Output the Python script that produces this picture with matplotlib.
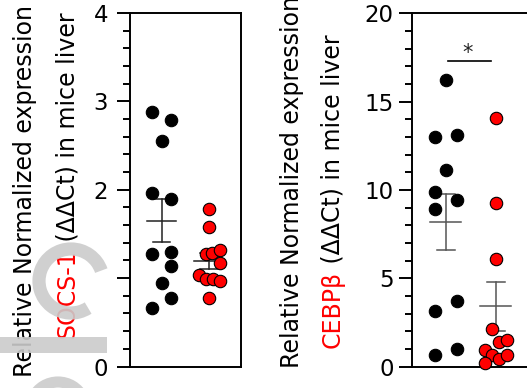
import numpy as np
import matplotlib
matplotlib.use("Agg")
import matplotlib.pyplot as plt
from matplotlib.patches import Arc, Rectangle
from matplotlib.ticker import MultipleLocator, FixedLocator, FixedFormatter

plt.rcParams['font.family'] = ['DejaVu Sans']

# ---------------- data ----------------
groups = [0, 1]
socs_ctrl = [2.875, 2.79, 2.55, 1.96, 1.89, 1.27, 1.30, 1.14, 0.95, 0.78, 0.665]
socs_ctrl_jit = [-0.21, 0.21, 0.0, -0.21, 0.21, -0.21, 0.21, 0.21, 0.0, 0.21, -0.21]
socs_trt = [1.78, 1.575, 1.27, 1.28, 1.315, 1.175, 1.03, 0.985, 0.99, 0.97, 0.78]
socs_trt_jit = [0.0, 0.0, -0.07, 0.07, 0.23, 0.23, -0.21, -0.07, 0.08, 0.23, 0.0]

cebp_ctrl = [16.23, 12.98, 13.13, 11.11, 9.87, 9.43, 8.94, 3.72, 3.15, 1.0, 0.68]
cebp_ctrl_jit = [0.0, -0.21, 0.22, 0.0, -0.21, 0.22, -0.21, 0.22, -0.21, 0.22, -0.21]
cebp_trt = [14.1, 9.28, 6.1, 2.15, 1.40, 1.51, 0.945, 0.66, 0.45, 0.66, 0.23]
cebp_trt_jit = [0.0, 0.0, 0.0, -0.07, 0.07, 0.22, -0.21, -0.07, 0.07, 0.22, -0.21]

socs_ticks = [0, 1, 2, 3, 4]
socs_ticklabels = ['0', '', '2', '3', '4']
cebp_ticks = [0, 5, 10, 15, 20]
cebp_ticklabels = ['0', '5', '10', '15', '20']

ylabel_line1 = "Relative Normalized expression"
socs_gene = "SOCS-1"
cebp_gene = "CEBPβ"
ylabel_rest = " (ΔΔCt) in mice liver"
sig_text = "*"

# ---------------- figure ----------------
W, H = 527, 388
fig = plt.figure(figsize=(W / 100, H / 100), dpi=100)
fig.patch.set_facecolor('white')


def px_axes(x0, x1, ytop, ybot):
    return fig.add_axes([x0 / W, (H - ybot) / H, (x1 - x0) / W, (ybot - ytop) / H])


ax1 = px_axes(129.5, 241, 13, 366.5)
ax2 = px_axes(412.3, 412.3 + 117.5, 13.3, 366.7)

FS_TICK = 16.5
FS_LAB = 17


def style(ax, ylim, ticks, labels, minor, pad):
    ax.set_xlim(-0.674, 1.674)
    ax.set_ylim(*ylim)
    ax.set_xticks([])
    ax.yaxis.set_major_locator(FixedLocator(ticks))
    ax.yaxis.set_major_formatter(FixedFormatter(labels))
    ax.yaxis.set_minor_locator(MultipleLocator(minor))
    ax.tick_params(axis='y', which='major', length=9.5, width=1.4, labelsize=FS_TICK, pad=pad)
    ax.tick_params(axis='y', which='minor', length=5, width=1.4)
    for s in ax.spines.values():
        s.set_linewidth(1.4)


style(ax1, (0, 4), socs_ticks, socs_ticklabels, 0.2, 6)
style(ax2, (0, 20), cebp_ticks, cebp_ticklabels, 1, 4)
ax2.set_xlim(-0.668, 1.682)


def sem_bar(ax, x, vals, color):
    v = np.asarray(vals)
    m = v.mean()
    se = v.std(ddof=1) / np.sqrt(len(v))
    ax.plot([x - 0.31, x + 0.31], [m, m], color=color, lw=1.1, zorder=2)
    ax.plot([x, x], [m - se, m + se], color=color, lw=1.1, zorder=2)
    ax.plot([x - 0.18, x + 0.18], [m + se, m + se], color=color, lw=1.1, zorder=2)
    ax.plot([x - 0.18, x + 0.18], [m - se, m - se], color=color, lw=1.1, zorder=2)


def dots(ax, x, vals, jit, face):
    xs = x + np.asarray(jit)
    ax.scatter(xs, vals, s=80, facecolor=face, edgecolor='black', linewidth=0.8,
               zorder=3, clip_on=False)


dots(ax1, groups[0], socs_ctrl, socs_ctrl_jit, 'black')
dots(ax1, groups[1], socs_trt, socs_trt_jit, '#ff0000')
sem_bar(ax1, groups[0], socs_ctrl, '#222222')
sem_bar(ax1, groups[1], socs_trt, '#222222')

dots(ax2, groups[0], cebp_ctrl, cebp_ctrl_jit, 'black')
dots(ax2, groups[1], cebp_trt, cebp_trt_jit, '#ff0000')
sem_bar(ax2, groups[0], cebp_ctrl, '#555555')
sem_bar(ax2, groups[1], cebp_trt, '#555555')

# significance
ax2.plot([0.04, 0.90], [17.3, 17.3], color='black', lw=1.2, clip_on=False)
ax2.text(0.43, 17.2, sig_text, ha='center', va='bottom', fontsize=15, color='#222222')

# ---------------- y labels (multi-colour, rotated) ----------------
renderer = fig.canvas.get_renderer()


def rotated_line(x_px, y_px, parts, fs):
    y = y_px
    for s, c in parts:
        t = fig.text(x_px / W, y / H, s, rotation=90, ha='center', va='bottom',
                     color=c, fontsize=fs, zorder=5)
        bb = t.get_window_extent(renderer)
        y = bb.y1


rotated_line(25, 11, [(ylabel_line1, 'black')], FS_LAB)
rotated_line(67, 50, [(socs_gene, '#ff0000'), (ylabel_rest, 'black')], FS_LAB)
rotated_line(292, 20, [(ylabel_line1, 'black')], FS_LAB)
rotated_line(332.5, 40, [(cebp_gene, '#ff0000'), (ylabel_rest, 'black')], FS_LAB)

# ---------------- watermark remnants ----------------
wm = '#cbcbcb'
ring = Arc((71 / W, (H - 281) / H), 64 / W, 64 / H, theta1=25, theta2=295,
           transform=fig.transFigure, color=wm, lw=9.5, alpha=0.9, zorder=10)
fig.add_artist(ring)
fig.add_artist(Rectangle((0, (H - 353) / H), 107 / W, 16 / H, transform=fig.transFigure,
                         facecolor=wm, edgecolor='none', alpha=0.9, zorder=10))
ring2 = Arc((58 / W, (H - 410) / H), 56 / W, 56 / H, theta1=35, theta2=145,
            transform=fig.transFigure, color=wm, lw=8, alpha=0.9, zorder=10)
fig.add_artist(ring2)

fig.savefig('out.png', dpi=100)
